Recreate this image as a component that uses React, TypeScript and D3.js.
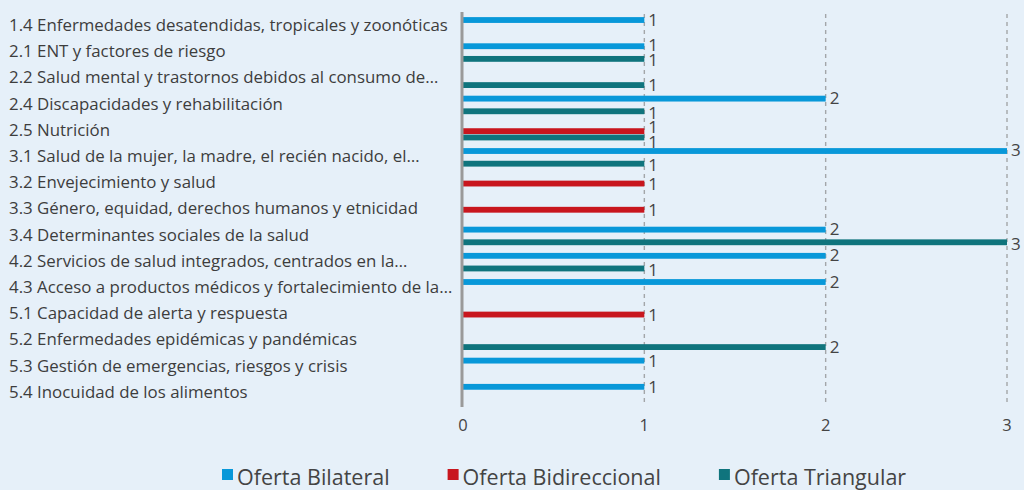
import React, { useEffect, useRef } from "react";
import * as d3 from "d3";

const categories = [
  "1.4 Enfermedades desatendidas, tropicales y zoonóticas",
  "2.1 ENT y factores de riesgo",
  "2.2 Salud mental y trastornos debidos al consumo de…",
  "2.4 Discapacidades y rehabilitación",
  "2.5 Nutrición",
  "3.1 Salud de la mujer, la madre, el recién nacido, el…",
  "3.2 Envejecimiento y salud",
  "3.3 Género, equidad, derechos humanos y etnicidad",
  "3.4 Determinantes sociales de la salud",
  "4.2 Servicios de salud integrados, centrados en la…",
  "4.3 Acceso a productos médicos y fortalecimiento de la…",
  "5.1 Capacidad de alerta y respuesta",
  "5.2 Enfermedades epidémicas y pandémicas",
  "5.3 Gestión de emergencias, riesgos y crisis",
  "5.4 Inocuidad de los alimentos",
];

const seriesNames = ["Oferta Bilateral", "Oferta Bidireccional", "Oferta Triangular"];
const seriesColors = ["#0898d9", "#c8161e", "#0f747d"];

const bilateral = [1, 1, 0, 2, 0, 3, 0, 0, 2, 2, 2, 0, 0, 1, 1];
const bidireccional = [0, 0, 0, 0, 1, 0, 1, 1, 0, 0, 0, 1, 0, 0, 0];
const triangular = [0, 1, 1, 1, 1, 1, 0, 0, 3, 1, 0, 0, 2, 0, 0];

const xTicks = [0, 1, 2, 3];

const W = 1024;
const H = 490;
const FONT = "'Open Sans', 'Noto Sans', sans-serif";

export default function App() {
  const ref = useRef<SVGSVGElement>(null);

  useEffect(() => {
    const svg = d3.select(ref.current);
    svg.selectAll("*").remove();

    svg.append("rect").attr("width", W).attr("height", H).attr("fill", "#e6f0f9");

    const x = d3.scaleLinear().domain([0, 3]).range([463, 1007]);
    const y = d3.scaleBand<string>().domain(categories).range([12, 405]).padding(0);
    const inner = d3.scaleBand<string>().domain(seriesNames).range([-8.5, 11]).padding(0.08);
    const barH = inner.bandwidth();

    // gridlines
    svg
      .append("g")
      .selectAll("line")
      .data(xTicks.filter((t) => t > 0))
      .join("line")
      .attr("x1", (d) => x(d))
      .attr("x2", (d) => x(d))
      .attr("y1", 14)
      .attr("y2", 406)
      .attr("stroke", "#a3a6a9")
      .attr("stroke-width", 1.4)
      .attr("stroke-dasharray", "4,4");

    // tick labels
    svg
      .append("g")
      .selectAll("text")
      .data(xTicks)
      .join("text")
      .attr("x", (d) => x(d))
      .attr("y", 431)
      .attr("text-anchor", "middle")
      .attr("font-family", FONT)
      .attr("font-size", 16.5)
      .attr("fill", "#444")
      .text((d) => String(d));

    // category labels
    svg
      .append("g")
      .selectAll("text")
      .data(categories)
      .join("text")
      .attr("x", 9)
      .attr("y", (d) => (y(d) as number) + y.bandwidth() / 2)
      .attr("dy", "0.35em")
      .attr("font-family", FONT)
      .attr("font-size", 16.85)
      .attr("fill", "#3d3d3d")
      .text((d) => d);

    const seriesValues = [bilateral, bidireccional, triangular];
    type Item = { cat: string; s: number; v: number; cy: number; ly: number };
    const items: Item[] = [];
    categories.forEach((c, i) => {
      seriesNames.forEach((sn, s) => {
        const v = seriesValues[s][i];
        if (v > 0) {
          const cy = (y(c) as number) + y.bandwidth() / 2 + (inner(sn) as number) + barH / 2;
          items.push({ cat: c, s, v, cy, ly: cy });
        }
      });
    });

    // label collision avoidance within each category
    categories.forEach((c) => {
      const its = items.filter((d) => d.cat === c).sort((a, b) => a.cy - b.cy);
      for (let k = 1; k < its.length; k++) {
        const gap = its[k].ly - its[k - 1].ly;
        const minGap = 15;
        if (gap < minGap) {
          const push = (minGap - gap) / 2;
          its[k - 1].ly -= push;
          its[k].ly += push;
        }
      }
    });

    // bars
    svg
      .append("g")
      .selectAll("rect")
      .data(items)
      .join("rect")
      .attr("x", x(0))
      .attr("y", (d) => d.cy - barH / 2)
      .attr("width", (d) => x(d.v) - x(0))
      .attr("height", barH)
      .attr("fill", (d) => seriesColors[d.s]);

    // axis line
    svg
      .append("line")
      .attr("x1", x(0) - 1)
      .attr("x2", x(0) - 1)
      .attr("y1", 12)
      .attr("y2", 407)
      .attr("stroke", "#9a9a9a")
      .attr("stroke-width", 3);

    // value labels
    svg
      .append("g")
      .selectAll("text")
      .data(items)
      .join("text")
      .attr("x", (d) => x(d.v) + 4)
      .attr("y", (d) => d.ly)
      .attr("dy", "0.36em")
      .attr("font-family", FONT)
      .attr("font-size", 17)
      .attr("fill", "#444")
      .text((d) => String(d.v));

    // legend
    const lg = svg.append("g");
    let cx = 222;
    seriesNames.forEach((sn, s) => {
      lg.append("rect")
        .attr("x", cx)
        .attr("y", 469)
        .attr("width", 11)
        .attr("height", 11)
        .attr("fill", seriesColors[s]);
      const t = lg
        .append("text")
        .attr("x", cx + 15)
        .attr("y", 485)
        .attr("font-family", FONT)
        .attr("font-size", 21.5)
        .attr("fill", "#444")
        .text(sn);
      const w = (t.node() as SVGTextElement).getComputedTextLength();
      cx = cx + 15 + w + 58;
    });
  }, []);

  return (
    <svg
      ref={ref}
      width={W}
      height={H}
      style={{ position: "absolute", left: 0, top: 0, display: "block" }}
    />
  );
}
